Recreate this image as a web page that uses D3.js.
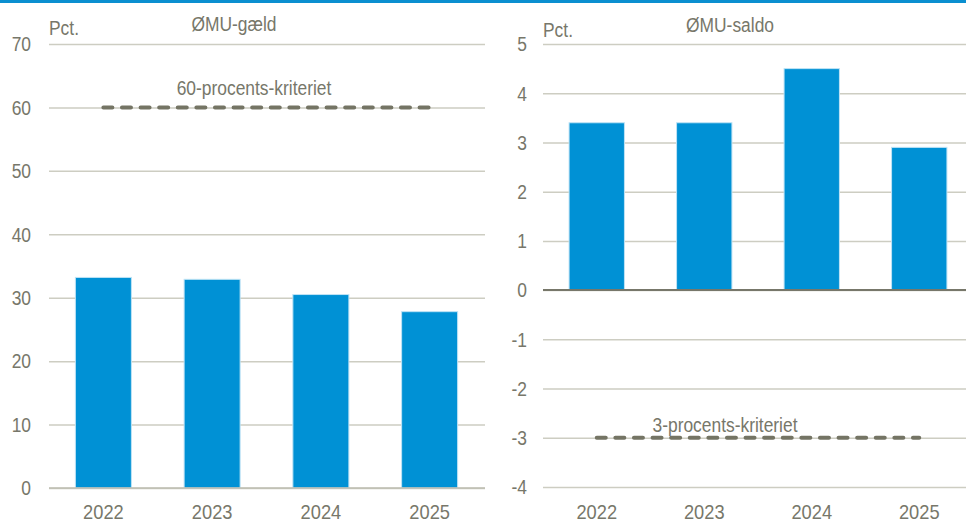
<!DOCTYPE html>
<html><head><meta charset="utf-8">
<script src="https://cdn.jsdelivr.net/npm/d3@7"></script>
<style>
html,body{margin:0;padding:0;background:#fff;}
svg text{font-family:"Liberation Sans Narrow","Arial Narrow","Liberation Sans",sans-serif;fill:#77776a;}
</style></head>
<body><svg id="c" width="966" height="522"></svg>
<script>
const years = ["2022","2023","2024","2025"];
const debtValues = [33.2, 32.9, 30.5, 27.8];
const debtCriterion = [60, 60, 60, 60];
const debtTicks = [0,10,20,30,40,50,60,70];
const balanceValues = [3.4, 3.4, 4.5, 2.9];
const balanceCriterion = [-3, -3, -3, -3];
const balanceTicks = [-4,-3,-2,-1,0,1,2,3,4,5];

const svg = d3.select("#c");
const BLUE = "#0091d5", GRID = "#cdcdc2", TXT = "#77776a", DASH = "#747464";
const SX = 0.87;

function narrow(sel){
  sel.each(function(){
    const t = d3.select(this);
    const x = +t.attr("x") || 0, y = +t.attr("y") || 0;
    t.attr("x",0).attr("y",0).attr("transform",`translate(${x},${y}) scale(${SX},1)`);
  });
}

svg.append("rect").attr("x",0).attr("y",0).attr("width",966).attr("height",3).attr("fill","#0a8fd0");

function panel(o){
  const g = svg.append("g");
  const x = d3.scaleBand().domain(years).range(o.xr).paddingInner(0.485).paddingOuter(0.2425);
  const y = d3.scaleLinear().domain(o.dom).range(o.yr);
  const ax = d3.axisLeft(y).tickValues(o.ticks).tickSize(-(o.gridEnd - o.xr[0])).tickFormat(d=>d<0?"-"+Math.abs(d):d);
  const ag = g.append("g").attr("transform",`translate(${o.xr[0]},0)`).call(ax);
  ag.select(".domain").remove();
  ag.selectAll(".tick line").attr("stroke",GRID).attr("stroke-width",1.5);
  const tt = ag.selectAll(".tick text").attr("x",o.labelX - o.xr[0]).attr("text-anchor","end")
    .attr("dy","0.34em").style("font-size","20px").attr("fill",TXT);
  narrow(tt);
  g.selectAll("rect.bar").data(years).join("rect").attr("class","bar")
    .attr("x",d=>x(d)).attr("width",x.bandwidth())
    .attr("y",(d,i)=>y(Math.max(0,o.vals[i])))
    .attr("height",(d,i)=>Math.abs(y(o.vals[i])-y(0)))
    .attr("fill",BLUE).attr("stroke","#bfe3f5").attr("stroke-width",1);
  g.append("line").attr("x1",o.xr[0]).attr("x2",o.gridEnd).attr("y1",y(0)).attr("y2",y(0))
    .attr("stroke",o.zeroColor).attr("stroke-width",o.zeroW);
  const line = d3.line().x(d=>x(d.k)+x.bandwidth()/2).y(d=>y(d.v));
  g.append("path").datum(years.map((k,i)=>({k,v:o.crit[i]})))
    .attr("d",line).attr("fill","none").attr("stroke",DASH).attr("stroke-width",4)
    .attr("stroke-dasharray","9,9.6").attr("stroke-linecap","round");
  narrow(g.append("text").attr("x",o.critLabelX).attr("y",o.critLabelY).attr("text-anchor","middle")
    .style("font-size","20px").text(o.critLabel));
  narrow(g.selectAll("text.xl").data(years).join("text").attr("class","xl")
    .attr("x",d=>x(d)+x.bandwidth()/2).attr("y",519).attr("text-anchor","middle")
    .style("font-size","21px").text(d=>d));
  narrow(g.append("text").attr("x",o.xr[0]).attr("y",o.pctY).style("font-size","20px").text("Pct."));
  narrow(g.append("text").attr("x",o.titleX).attr("y",o.titleY).attr("text-anchor","middle").style("font-size","20px").text(o.title));
}

panel({xr:[49,484], gridEnd:485, labelX:31, dom:[0,70], yr:[488,44], ticks:debtTicks,
  vals:debtValues, crit:debtCriterion, critLabel:"60-procents-kriteriet", critLabelX:254, critLabelY:95,
  zeroColor:"#bdbdb1", zeroW:1.5, pctY:35, title:"ØMU-gæld", titleX:234, titleY:31});
panel({xr:[543,973], gridEnd:966, labelX:527, dom:[-4,5], yr:[487,44], ticks:balanceTicks,
  vals:balanceValues, crit:balanceCriterion, critLabel:"3-procents-kriteriet", critLabelX:725, critLabelY:432,
  zeroColor:"#77776a", zeroW:2, pctY:37, title:"ØMU-saldo", titleX:730, titleY:32});
</script></body></html>
